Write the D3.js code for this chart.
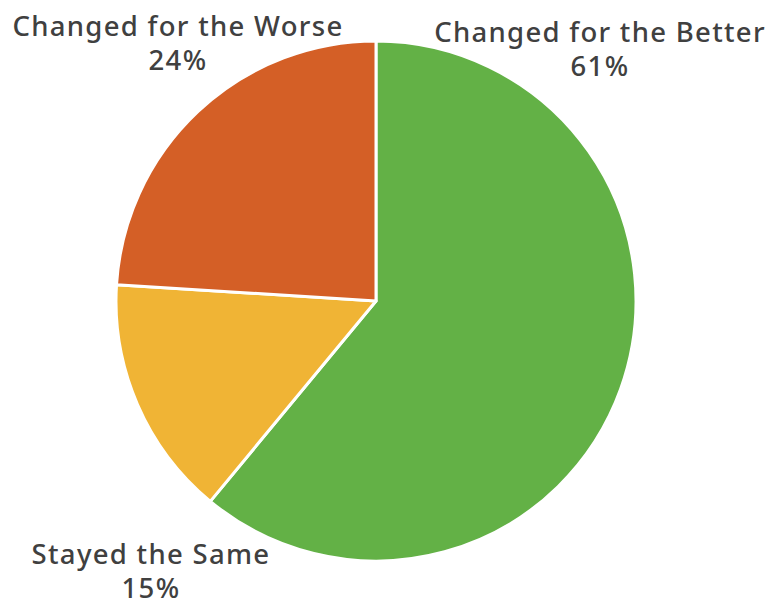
<!DOCTYPE html>
<html>
<head>
<meta charset="utf-8">
<script src="https://cdnjs.cloudflare.com/ajax/libs/d3/7.8.5/d3.min.js"></script>
<style>
  html, body { margin: 0; padding: 0; background: #fff; }
  svg { display: block; }
  .lbl { font-family: "Noto Sans", sans-serif; font-weight: 500; font-size: 27.5px; letter-spacing: 1.3px; fill: #404040; }
</style>
</head>
<body>
<svg id="chart" width="771" height="602"></svg>
<script>
var categories = ['Changed for the Better', 'Stayed the Same', 'Changed for the Worse'];
var values = [61, 15, 24];
var colors = ['#63b146', '#f0b435', '#d45f26'];

var G = { cx: 376, cy: 301, r: 260 };
// label anchor per slice (center x, baseline y of first line)
var labelPos = [[600, 42], [151, 564], [178, 36]];

var svg = d3.select('#chart');
var data = categories.map(function(c, i) { return { name: c, value: values[i], color: colors[i] }; });

var pie = d3.pie().sort(null).value(function(d) { return d.value; });
var arc = d3.arc().innerRadius(0).outerRadius(G.r);

var g = svg.append('g').attr('transform', 'translate(' + G.cx + ',' + G.cy + ')');
g.selectAll('path')
  .data(pie(data))
  .enter()
  .append('path')
  .attr('d', arc)
  .style('fill', function(d) { return d.data.color; })
  .style('stroke', '#fff')
  .style('stroke-width', 3)
  .style('stroke-linejoin', 'round');

var labels = svg.selectAll('.lbl')
  .data(data)
  .enter()
  .append('text')
  .classed('lbl', true)
  .attr('text-anchor', 'middle')
  .attr('x', function(d, i) { return labelPos[i][0]; })
  .attr('y', function(d, i) { return labelPos[i][1]; });
labels.append('tspan').text(function(d) { return d.name; });
labels.append('tspan')
  .attr('x', function(d, i) { return labelPos[i][0]; })
  .attr('dy', 34)
  .text(function(d) { return d.value + '%'; });
</script>
</body>
</html>
